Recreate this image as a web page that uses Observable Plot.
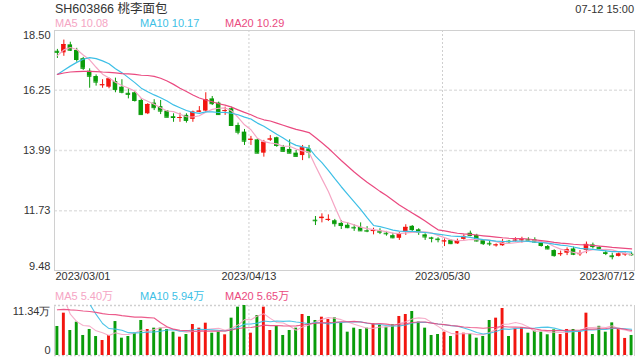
<!DOCTYPE html>
<html><head><meta charset="utf-8">
<script src="https://cdn.jsdelivr.net/npm/d3@7"></script>
<script src="https://cdn.jsdelivr.net/npm/@observablehq/plot@0.6"></script>
<style>
body{margin:0;background:#fff;}
#wrap{position:relative;width:640px;height:360px;overflow:hidden;font-family:"Liberation Sans",Arial,"Noto Sans CJK SC",sans-serif;color:#333;}
.t{position:absolute;white-space:nowrap;font-size:11px;line-height:1;}
.p{position:absolute;left:0;}
</style></head><body>
<div id="wrap"></div>
<script>
// ---- data ----
const title = "SH603866 桃李面包";
const timeLabel = "07-12 15:00";
const marDays = [1,2,3,6,7,8,9,10,13,14,15,16,17,20,21,22,23,24,27,28,29,30,31];
const aprDays = [3,4,6,7,10,11,12,13,14,17,18,19,20,21,24,25,26,27,28];
const mayDays = [4,5,8,9,10,11,12,15,16,17,18,19,22,23,24,25,26,29,30,31];
const junDays = [1,2,5,6,7,8,9,12,13,14,15,16,19,20,21,26,27,28,29,30];
const julDays = [3,4,5,6,7,10,11,12];
const dateLabels = ["2023/03/01","2023/04/13","2023/05/30","2023/07/12"];
const priceTicks = [18.50, 16.25, 13.99, 11.73, 9.48];

const openP = [17.72,17.66,17.96,17.75,17.44,16.97,16.77,16.43,16.37,16.58,
16.37,16.14,16.16,15.87,15.37,15.77,15.64,15.47,15.26,15.20,
15.31,15.16,15.43,15.47,15.93,15.77,15.47,15.56,14.93,14.68,
14.38,14.39,13.89,14.39,14.47,14.11,14.03,13.89,13.80,14.05,
11.37,11.43,11.37,11.35,11.25,11.18,11.10,11.10,10.98,10.95,
10.97,10.88,10.79,10.69,10.92,11.14,11.01,10.82,10.71,10.66,
10.56,10.61,10.48,10.65,10.88,10.80,10.60,10.50,10.42,10.41,
10.58,10.60,10.61,10.64,10.63,10.51,10.38,10.23,10.09,10.13,
10.29,10.10,10.23,10.44,10.35,10.15,10.03,10.01,10.08,10.09];
const highP = [17.79,18.14,18.06,17.83,17.49,17.06,16.83,16.65,16.71,16.71,
16.65,16.31,16.21,15.93,15.75,15.90,15.87,15.49,15.37,15.39,
15.37,15.47,15.64,16.16,16.02,15.81,15.62,15.62,15.02,14.78,
14.52,14.43,14.37,14.55,14.49,14.18,14.39,13.99,14.18,14.18,
11.51,11.61,11.57,11.40,11.36,11.27,11.20,11.27,11.13,11.07,
11.05,10.95,10.88,10.90,11.20,11.17,11.05,10.86,10.73,10.71,
10.67,10.63,10.66,10.82,10.96,10.84,10.63,10.57,10.48,10.65,
10.61,10.71,10.73,10.71,10.71,10.55,10.42,10.26,10.21,10.33,
10.36,10.23,10.55,10.51,10.38,10.21,10.13,10.14,10.14,10.16];
const lowP = [17.45,17.53,17.71,17.31,17.00,16.33,16.41,16.33,16.31,16.16,
16.12,15.93,15.81,15.31,15.34,15.49,15.34,15.22,15.05,15.05,
15.02,15.05,15.41,15.43,15.68,15.31,15.31,14.93,14.58,14.18,
14.18,13.87,13.74,14.33,14.11,13.93,13.87,13.74,13.61,13.68,
11.17,11.27,11.32,11.11,11.02,11.05,10.95,10.95,10.90,10.82,
10.83,10.77,10.67,10.61,10.80,10.90,10.80,10.61,10.52,10.52,
10.38,10.45,10.46,10.62,10.75,10.55,10.42,10.39,10.36,10.39,
10.49,10.55,10.51,10.55,10.51,10.36,10.26,9.98,10.01,10.04,
10.04,10.01,10.11,10.29,10.23,10.04,9.88,9.99,10.01,10.02];
const closeP = [17.68,17.97,17.76,17.41,17.08,16.78,16.56,16.46,16.68,16.28,
16.18,16.10,15.87,15.34,15.72,15.60,15.47,15.24,15.23,15.23,
15.12,15.43,15.47,15.90,15.75,15.34,15.49,14.93,14.68,14.34,
14.41,13.89,14.30,14.42,14.18,13.96,13.89,13.77,14.09,13.93,
11.35,11.48,11.40,11.24,11.17,11.09,11.08,10.97,10.96,10.98,
10.92,10.86,10.71,10.87,11.10,11.02,10.92,10.74,10.69,10.64,
10.59,10.49,10.58,10.76,10.80,10.59,10.49,10.48,10.44,10.51,
10.56,10.62,10.63,10.62,10.55,10.42,10.29,10.04,10.11,10.26,
10.09,10.11,10.46,10.38,10.31,10.12,10.00,10.10,10.10,10.07];
// volume in 万
const volumes = [6.58,9.60,5.67,7.55,4.54,5.90,4.30,3.40,4.54,7.70,
3.93,4.31,5.06,7.94,5.90,6.20,6.20,5.90,5.29,4.16,
4.76,7.03,6.20,7.33,5.06,5.29,4.69,8.47,10.96,11.34,
5.06,9.07,10.96,5.67,6.58,4.54,5.67,6.20,9.30,8.85,
7.94,8.69,8.16,8.54,7.33,5.29,6.20,5.90,6.20,7.18,
6.80,6.42,6.96,8.85,9.30,9.98,7.56,6.20,4.54,4.76,
5.29,4.31,5.44,5.06,4.91,3.93,4.31,7.94,8.47,10.66,
4.31,6.05,6.27,5.06,5.52,5.29,4.70,5.82,4.76,5.90,
5.90,5.52,9.60,4.76,6.62,5.29,7.40,5.90,3.87,4.54];
// sessions before 03/01 (estimated from where the MA lines start)
const priorCloses = [16.9,17.0,17.1,16.9,16.8,16.7,16.8,16.9,16.7,16.7,16.4,16.2,16.0,15.9,16.2,16.9,17.3,17.8,18.1];
const priorVolumes = [7.5,8.0,9.0,8.5,7.8,8.2,9.1,8.6,8.4,8.5,7.6,8.3,8.1,7.9,8.1,28,24,16,9];

const maPeriods = [5, 10, 20];
const maColors = ["#f5a5c4", "#3dbfe6", "#ea4a80"];
const upColor = "#f2150f";
const downColor = "#0a9c0a";

// ---- build ----
const dates = [];
[[3,marDays],[4,aprDays],[5,mayDays],[6,junDays],[7,julDays]].forEach(([m, days]) =>
  days.forEach(d => dates.push(`2023/${String(m).padStart(2,"0")}/${String(d).padStart(2,"0")}`)));

const data = dates.map((date, i) => ({date, open: openP[i], high: highP[i], low: lowP[i], close: closeP[i], volume: volumes[i], up: closeP[i] >= openP[i]}));
const col = d => d.up ? upColor : downColor;

function movingAvg(series, prior, n) {
  const all = prior.concat(series);
  return series.map((_, i) => d3.mean(all.slice(i + prior.length - n + 1, i + prior.length + 1)));
}
const priceMA = maPeriods.map(n => movingAvg(closeP, priorCloses, n));
const volMA = maPeriods.map(n => movingAvg(volumes, priorVolumes, n));
const vmax = d3.max(volumes);

const xOpts = {type: "band", domain: dates, paddingInner: 0.3, paddingOuter: 0.1, round: false, axis: null};
const font = {fontFamily: '"Liberation Sans", Arial, sans-serif', fontSize: "11px", color: "#333", background: "transparent"};
const gridDates = [dateLabels[1], dateLabels[2]];

const pricePlot = Plot.plot({
  width: 640, height: 285, marginTop: 30, marginBottom: 15, marginLeft: 54, marginRight: 6,
  style: font,
  x: xOpts,
  y: {domain: [priceTicks[priceTicks.length - 1], priceTicks[0]], axis: null},
  marks: [
    Plot.ruleY(priceTicks.slice(1, -1), {stroke: "#e2e2e2", strokeWidth: 1.5, strokeDasharray: "3,2"}),
    Plot.ruleX(gridDates, {x: d => d, stroke: "#cfcfcf", strokeDasharray: "2,2", dx: -2}),
    Plot.frame({stroke: "#d0d0d0"}),
    Plot.ruleX(data, {x: "date", y1: "low", y2: "high", stroke: col}),
    Plot.barY(data, {x: "date", y1: "open", y2: "close", fill: col}),
    Plot.tickY(data, {x: "date", y: "close", stroke: col}),
    ...maPeriods.map((n, k) => Plot.line(data, {x: "date", y: (d, i) => priceMA[k][i], stroke: maColors[k], strokeWidth: 1.2, clip: true})),
    Plot.text([priceTicks[0]], {y: d => d, text: d => d.toFixed(2), frameAnchor: "left", textAnchor: "end", dx: -4, lineAnchor: "top", dy: 1}),
    Plot.text(priceTicks.slice(1, -1), {y: d => d, text: d => d.toFixed(2), frameAnchor: "left", textAnchor: "end", dx: -4}),
    Plot.text([priceTicks[priceTicks.length - 1]], {y: d => d, text: d => d.toFixed(2), frameAnchor: "left", textAnchor: "end", dx: -4, lineAnchor: "bottom", dy: -1}),
    Plot.text([dateLabels[0]], {x: d => d, text: d => d, frameAnchor: "bottom", textAnchor: "start", dx: -2, dy: 9}),
    Plot.text(gridDates, {x: d => d, text: d => d, frameAnchor: "bottom", textAnchor: "middle", dx: -2, dy: 9}),
    Plot.text([dateLabels[3]], {x: d => d, text: d => d, frameAnchor: "bottom", textAnchor: "end", dx: 3, dy: 9})
  ]
});

const volPlot = Plot.plot({
  width: 640, height: 75, marginTop: 20, marginBottom: 5, marginLeft: 54, marginRight: 6,
  style: font,
  x: xOpts,
  y: {domain: [0, vmax], axis: null},
  marks: [
    Plot.frame({stroke: "#d0d0d0"}),
    Plot.ruleY([0, vmax], {stroke: "#fff", strokeWidth: 1.5}),
    Plot.ruleY([0, vmax], {stroke: "#cfcfcf", strokeWidth: 1.5, strokeDasharray: "2,2"}),
    Plot.ruleX(gridDates, {x: d => d, stroke: "#cfcfcf", strokeDasharray: "2,2", dx: -2}),
    Plot.barY(data, {x: "date", y: "volume", fill: col, insetLeft: 0.8, insetRight: 0.8}),
    ...maPeriods.map((n, k) => Plot.line(data, {x: "date", y: (d, i) => volMA[k][i], stroke: maColors[k], strokeWidth: 1.1, strokeOpacity: 0.9, clip: true})),
    Plot.text([vmax], {y: d => d, text: d => d.toFixed(2) + "万", frameAnchor: "left", textAnchor: "end", dx: -4, lineAnchor: "top", dy: 2}),
    Plot.text([0], {y: d => d, text: d => String(d), frameAnchor: "left", textAnchor: "end", dx: -4, lineAnchor: "bottom", dy: -2})
  ]
});

const wrap = document.getElementById("wrap");
function addDiv(html, css, cls) {
  const el = document.createElement("div");
  el.className = cls; el.textContent = html; el.style.cssText = css; wrap.appendChild(el); return el;
}
const p1 = document.createElement("div"); p1.className = "p"; p1.style.top = "0px"; p1.appendChild(pricePlot); wrap.appendChild(p1);
const p2 = document.createElement("div"); p2.className = "p"; p2.style.top = "285px"; p2.appendChild(volPlot); wrap.appendChild(p2);

addDiv(title, "left:55px;top:3px;font-size:12.5px;color:#333;", "t");
addDiv(timeLabel, "right:6px;top:4px;font-size:11px;color:#333;", "t");
const legX = [55, 140, 225];
maPeriods.forEach((n, k) => {
  addDiv(`MA${n} ${priceMA[k][priceMA[k].length - 1].toFixed(2)}`, `left:${legX[k]}px;top:18px;color:${maColors[k]};`, "t");
  addDiv(`MA${n} ${volMA[k][volMA[k].length - 1].toFixed(2)}万`, `left:${legX[k]}px;top:291px;color:${maColors[k]};`, "t");
});
</script>
</body></html>
